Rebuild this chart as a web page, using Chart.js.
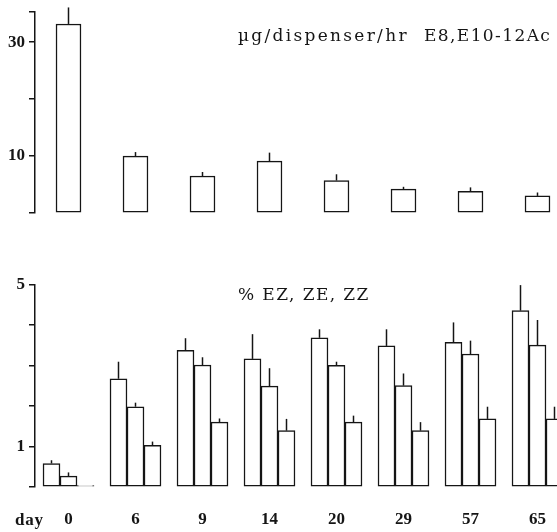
<!DOCTYPE html>
<html><head><meta charset="utf-8">
<script src="https://cdn.jsdelivr.net/npm/chart.js@4/dist/chart.umd.min.js"></script>
<style>
html,body{margin:0;padding:0;background:#fff;overflow:hidden;width:557px;height:532px;position:relative;}
#c1{position:absolute;left:0;top:0;}
#c2{position:absolute;left:0;top:270px;}
</style></head><body>
<canvas id="c1" width="572" height="225"></canvas>
<canvas id="c2" width="572" height="262"></canvas>
<script>
// ---- data ----
const days = ['0','6','9','14','20','29','57','65'];
const releaseRate = [33.2, 10.0, 6.5, 9.1, 5.7, 4.2, 3.8, 3.0];
const releaseSE   = [2.9, 0.7, 0.7, 1.5, 1.1, 0.4, 0.7, 0.6];
const pctEZ   = [0.58, 2.67, 3.37, 3.16, 3.68, 3.48, 3.57, 4.35];
const pctEZse = [0.08, 0.42, 0.30, 0.61, 0.21, 0.41, 0.49, 0.63];
const pctZE   = [0.27, 1.98, 3.01, 2.49, 3.00, 2.50, 3.28, 3.50];
const pctZEse = [0.09, 0.10, 0.19, 0.44, 0.09, 0.30, 0.33, 0.62];
const pctZZ   = [0.00, 1.03, 1.60, 1.39, 1.60, 1.39, 1.68, 1.68];
const pctZZse = [0.00, 0.09, 0.09, 0.29, 0.16, 0.21, 0.30, 0.30];
const topTicks = [0, 10, 20, 30];
const topMax = 35.3;
const topTickLabels = ['10', '30'];
const bottomTicks = [0, 1, 2, 3, 4, 5];
const bottomMax = 5;
const bottomTickLabels = ['1', '5'];
const topTitleUnit = 'µg/dispenser/hr';
const topTitleCompound = 'E8,E10-12Ac';
const bottomTitle = '% EZ, ZE, ZZ';
const axisWord = 'day';

// ---- style ----
const INK = '#151515';
const SERIF = '"DejaVu Serif", "Liberation Serif", serif';
const TSERIF = '"Liberation Serif", serif';

const errorBars = {
  id: 'errorBars',
  afterDatasetsDraw(chart) {
    const ctx = chart.ctx, ys = chart.scales.y;
    ctx.save();
    ctx.strokeStyle = INK; ctx.lineWidth = 1.5;
    chart.data.datasets.forEach((ds, i) => {
      const meta = chart.getDatasetMeta(i);
      meta.data.forEach((bar, j) => {
        const se = ds.se[j];
        if (!se) return;
        const yTop = ys.getPixelForValue(ds.data[j] + se);
        ctx.beginPath();
        ctx.moveTo(bar.x, bar.y);
        ctx.lineTo(bar.x, yTop);
        ctx.stroke();
      });
    });
    ctx.restore();
  }
};

const texts = {
  id: 'texts',
  afterDraw(chart, args, opts) {
    const ctx = chart.ctx;
    (opts.items || []).forEach(t => {
      ctx.save();
      ctx.font = t.font;
      ctx.fillStyle = INK;
      ctx.textAlign = t.align || 'left';
      ctx.textBaseline = 'alphabetic';
      if ('letterSpacing' in ctx) ctx.letterSpacing = (t.spacing || 0) + 'px';
      ctx.fillText(t.text, t.x, t.y);
      ctx.restore();
    });
  }
};

function yAxis(ticks, max, labels) {
  return {
    min: 0, max: max,
    afterFit: s => { s.width = 35; s.paddingTop = 0; s.paddingBottom = 0; },
    afterBuildTicks: s => { s.ticks = ticks.concat(ticks.includes(max) ? [] : [max]).map(v => ({value: v})); },
    grid: {drawOnChartArea: false, drawTicks: true, tickLength: 6, color: INK, lineWidth: 1.5},
    border: {display: true, color: INK, width: 1.5},
    ticks: {
      color: INK, padding: 4, autoSkip: false,
      font: {family: TSERIF, size: 17, weight: 'bold'},
      callback: v => labels.includes(String(v)) ? String(v) : ''
    }
  };
}

const barStyle = {backgroundColor: '#fff', borderColor: INK, borderWidth: 1.5, borderSkipped: false, minBarLength: 1.5};

new Chart(document.getElementById('c1'), {
  type: 'bar',
  data: {labels: days, datasets: [Object.assign({data: releaseRate, se: releaseSE, barThickness: 25}, barStyle)]},
  options: {
    responsive: false, animation: false, devicePixelRatio: 1,
    layout: {padding: {top: 12, bottom: 12, left: 0, right: 1}},
    plugins: {legend: {display: false}, tooltip: {enabled: false},
      texts: {items: [
        {text: topTitleUnit, x: 238, y: 41, font: '17px ' + SERIF, spacing: 2.3},
        {text: topTitleCompound, x: 424, y: 41, font: '17px ' + SERIF, spacing: 1.4}
      ]}},
    scales: {
      x: {display: false},
      y: yAxis(topTicks, topMax, topTickLabels)
    }
  },
  plugins: [errorBars, texts]
});

new Chart(document.getElementById('c2'), {
  type: 'bar',
  data: {labels: days, datasets: [
    Object.assign({data: pctEZ, se: pctEZse, barThickness: 17}, barStyle),
    Object.assign({data: pctZE, se: pctZEse, barThickness: 17}, barStyle),
    Object.assign({data: pctZZ, se: pctZZse, barThickness: 17}, barStyle)
  ]},
  options: {
    responsive: false, animation: false, devicePixelRatio: 1,
    layout: {padding: {top: 14.3, bottom: 0, left: 0, right: 1}},
    plugins: {legend: {display: false}, tooltip: {enabled: false},
      texts: {items: [
        {text: bottomTitle, x: 238, y: 29.5, font: '17px ' + SERIF, spacing: 1.4},
        {text: axisWord, x: 15, y: 255, font: 'bold 17px ' + TSERIF, spacing: 0.8}
      ]}},
    scales: {
      x: {
        afterFit: s => { s.height = 45; },
        grid: {display: false}, border: {display: false},
        ticks: {color: INK, padding: 14, autoSkip: false, maxRotation: 0,
          font: {family: TSERIF, size: 17, weight: 'bold'}}
      },
      y: yAxis(bottomTicks, bottomMax, bottomTickLabels)
    }
  },
  plugins: [errorBars, texts]
});
</script>
</body></html>
